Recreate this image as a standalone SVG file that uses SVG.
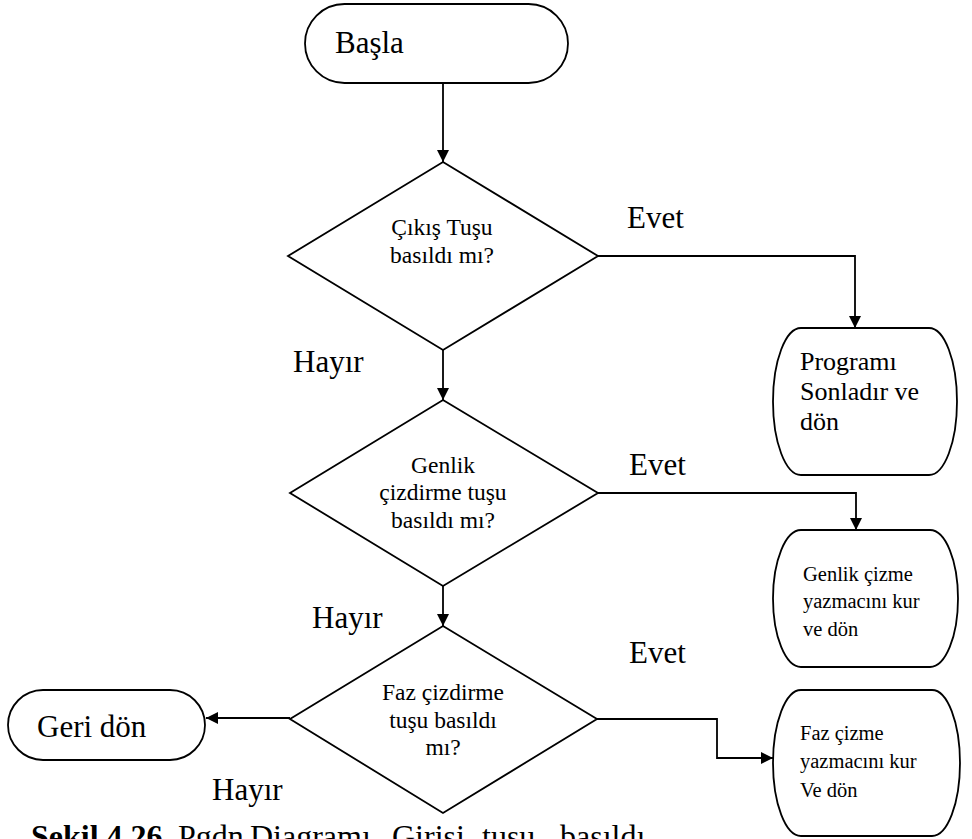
<svg xmlns="http://www.w3.org/2000/svg" width="972" height="839" viewBox="0 0 972 839">
  <style>
    .shape { fill: #fff; stroke: #000; stroke-width: 1.8; }
    .wire { fill: none; stroke: #000; stroke-width: 1.8; }
    text { font-family: "Liberation Serif", "Times New Roman", serif; fill: #000; }
    .lbl { font-size: 31px; }
    .dec { font-size: 23.5px; text-anchor: middle; }
    .box { font-size: 26px; }
    .sm { font-size: 20.5px; }
    .cap { font-size: 32px; }
  </style>
  <defs>
    <marker id="arrow" viewBox="0 0 12 12" refX="12" refY="6" markerWidth="12" markerHeight="12" markerUnits="userSpaceOnUse" orient="auto">
      <path d="M0,0 L12,6 L0,12 Z" fill="#000"/>
    </marker>
  </defs>
  <rect width="972" height="839" fill="#fff"/>

  <g id="connectors">
    <path class="wire" d="M443,83 V162" marker-end="url(#arrow)"/>
    <path class="wire" d="M598,256 H855 V328" marker-end="url(#arrow)"/>
    <path class="wire" d="M443,350 V400" marker-end="url(#arrow)"/>
    <path class="wire" d="M598,493 H856 V530" marker-end="url(#arrow)"/>
    <path class="wire" d="M443,586 V626" marker-end="url(#arrow)"/>
    <path class="wire" d="M290,718 H206" marker-end="url(#arrow)"/>
    <path class="wire" d="M597,719 H717 V758 H773" marker-end="url(#arrow)"/>
  </g>

  <g id="start">
    <rect class="shape" x="305" y="4" width="263" height="79" rx="39.5"/>
    <text class="lbl" x="335" y="53">Başla</text>
  </g>

  <g id="exit-check">
    <polygon class="shape" points="443,162 598,256 443,350 288,256"/>
    <text class="dec" x="442" y="235">Çıkış Tuşu</text>
    <text class="dec" x="442" y="263">basıldı mı?</text>
  </g>

  <g id="end-program">
    <path class="shape" d="M801,328 H929 A28,73.5 0 0 1 929,475 H801 A28,73.5 0 0 1 801,328 Z"/>
    <text class="box" x="800" y="370">Programı</text>
    <text class="box" x="800" y="400">Sonladır ve</text>
    <text class="box" x="800" y="430">dön</text>
  </g>

  <g id="amp-check">
    <polygon class="shape" points="443,400 598,493 443,586 290,493"/>
    <text class="dec" x="443" y="473">Genlik</text>
    <text class="dec" x="443" y="500">çizdirme tuşu</text>
    <text class="dec" x="443" y="528">basıldı mı?</text>
  </g>

  <g id="amp-set">
    <path class="shape" d="M801,530 H930 A28,68.5 0 0 1 930,667 H801 A28,68.5 0 0 1 801,530 Z"/>
    <text class="sm" x="803" y="581">Genlik çizme</text>
    <text class="sm" x="803" y="608">yazmacını kur</text>
    <text class="sm" x="803" y="636">ve dön</text>
  </g>

  <g id="phase-check">
    <polygon class="shape" points="443,626 597,719 443,813 290,719"/>
    <text class="dec" x="443" y="700">Faz çizdirme</text>
    <text class="dec" x="443" y="728">tuşu basıldı</text>
    <text class="dec" x="443" y="755">mı?</text>
  </g>

  <g id="phase-set">
    <path class="shape" d="M801,690 H932 A28,73 0 0 1 932,836 H801 A28,73 0 0 1 801,690 Z"/>
    <text class="sm" x="800" y="740">Faz çizme</text>
    <text class="sm" x="800" y="768">yazmacını kur</text>
    <text class="sm" x="800" y="797">Ve dön</text>
  </g>

  <g id="return">
    <rect class="shape" x="8" y="690" width="197" height="70" rx="35"/>
    <text class="lbl" x="37" y="737">Geri dön</text>
  </g>

  <g id="labels">
    <text class="lbl" x="627" y="228">Evet</text>
    <text class="lbl" x="293" y="372">Hayır</text>
    <text class="lbl" x="629" y="475">Evet</text>
    <text class="lbl" x="312" y="628">Hayır</text>
    <text class="lbl" x="629" y="663">Evet</text>
    <text class="lbl" x="212" y="800">Hayır</text>
  </g>

  <!-- figure caption, running off the bottom edge -->
  <text class="cap" y="847"><tspan x="31" font-weight="bold">Şekil 4.26</tspan><tspan x="178">Pgdn</tspan><tspan x="250">Diagramı</tspan><tspan x="392">Girişi</tspan><tspan x="482">tuşu</tspan><tspan x="560">basıldı</tspan></text>
</svg>
